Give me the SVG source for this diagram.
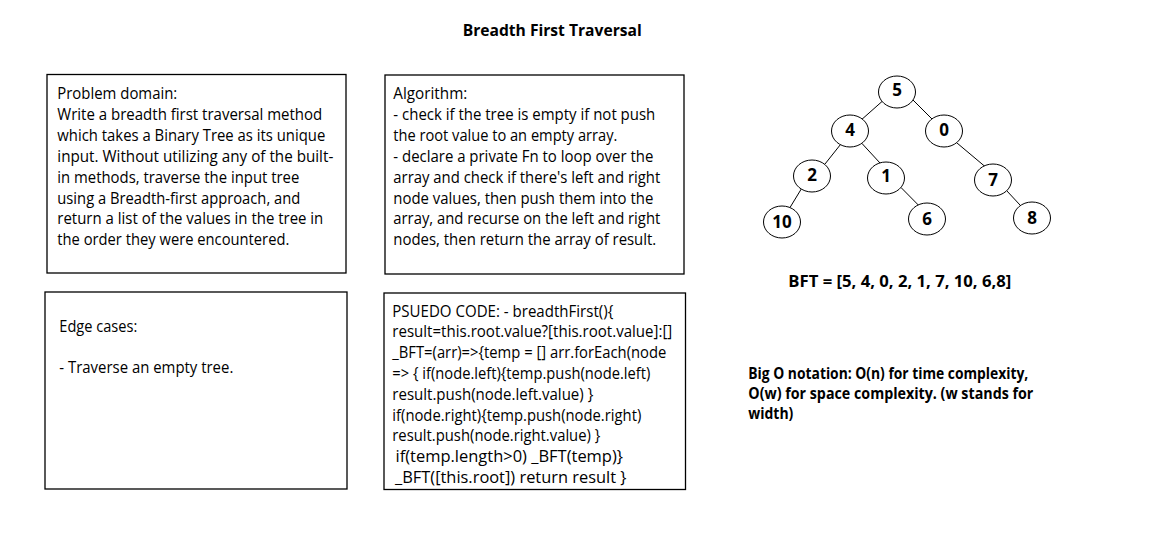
<svg xmlns="http://www.w3.org/2000/svg" width="1155" height="548" viewBox="0 0 1155 548">
<style>
.box{fill:#fff;stroke:#000;stroke-width:1.3}
.t{font-family:"Open Sans","Noto Sans",sans-serif;font-size:15.5px;fill:#000}
.b{font-family:"Open Sans","Noto Sans",sans-serif;font-size:16px;font-weight:bold;fill:#000}
.node ellipse{fill:#fff;stroke:#000;stroke-width:1}
.node text{font-family:"Open Sans","Noto Sans",sans-serif;font-size:17px;font-weight:bold;fill:#000;text-anchor:middle}
.edge{stroke:#000;stroke-width:1;fill:none}
</style>
<rect width="1155" height="548" fill="#fff"/>
<g id="title">
<text class="b" x="462.7" y="36" font-size="17" textLength="179" lengthAdjust="spacingAndGlyphs">Breadth First Traversal</text>
</g>
<g id="problem-domain">
<rect class="box" x="47" y="74.5" width="299" height="198.5"/>
<text class="t" x="57.3" y="99" textLength="120" lengthAdjust="spacingAndGlyphs">Problem domain:</text>
<text class="t" x="57.3" y="119.9" textLength="265" lengthAdjust="spacingAndGlyphs">Write a breadth first traversal method</text>
<text class="t" x="57.3" y="140.8" textLength="268" lengthAdjust="spacingAndGlyphs">which takes a Binary Tree as its unique</text>
<text class="t" x="57.3" y="161.7" textLength="276" lengthAdjust="spacingAndGlyphs">input. Without utilizing any of the built-</text>
<text class="t" x="57.3" y="182.6" textLength="242" lengthAdjust="spacingAndGlyphs">in methods, traverse the input tree</text>
<text class="t" x="57.3" y="203.5" textLength="243" lengthAdjust="spacingAndGlyphs">using a Breadth-first approach, and</text>
<text class="t" x="57.3" y="224.4" textLength="266" lengthAdjust="spacingAndGlyphs">return a list of the values in the tree in</text>
<text class="t" x="57.3" y="245.3" textLength="232" lengthAdjust="spacingAndGlyphs">the order they were encountered.</text>
</g>
<g id="algorithm">
<rect class="box" x="385" y="75" width="299" height="199"/>
<text class="t" x="393.3" y="99" textLength="74" lengthAdjust="spacingAndGlyphs">Algorithm:</text>
<text class="t" x="393.3" y="119.9" textLength="262" lengthAdjust="spacingAndGlyphs">- check if the tree is empty if not push</text>
<text class="t" x="393.3" y="140.8" textLength="224" lengthAdjust="spacingAndGlyphs">the root value to an empty array.</text>
<text class="t" x="393.3" y="161.7" textLength="260" lengthAdjust="spacingAndGlyphs">- declare a private Fn to loop over the</text>
<text class="t" x="393.3" y="182.6" textLength="267" lengthAdjust="spacingAndGlyphs">array and check if there's left and right</text>
<text class="t" x="393.3" y="203.5" textLength="260" lengthAdjust="spacingAndGlyphs">node values, then push them into the</text>
<text class="t" x="393.3" y="224.4" textLength="267" lengthAdjust="spacingAndGlyphs">array, and recurse on the left and right</text>
<text class="t" x="393.3" y="245.3" textLength="263" lengthAdjust="spacingAndGlyphs">nodes, then return the array of result.</text>
</g>
<g id="edge-cases">
<rect class="box" x="45" y="292" width="302" height="197"/>
<text class="t" x="59.3" y="331.5" textLength="78" lengthAdjust="spacingAndGlyphs">Edge cases:</text>
<text class="t" x="59.3" y="373.2" textLength="174" lengthAdjust="spacingAndGlyphs">- Traverse an empty tree.</text>
</g>
<g id="pseudo-code">
<rect class="box" x="384" y="293" width="301.5" height="196.5"/>
<text class="t" x="392.3" y="316.5" textLength="221" lengthAdjust="spacingAndGlyphs">PSUEDO CODE: - breadthFirst(){</text>
<text class="t" x="392.3" y="337.3" textLength="280" lengthAdjust="spacingAndGlyphs">result=this.root.value?[this.root.value]:[]</text>
<text class="t" x="392.3" y="358.1" textLength="274" lengthAdjust="spacingAndGlyphs">_BFT=(arr)=&gt;{temp = [] arr.forEach(node</text>
<text class="t" x="392.3" y="378.9" textLength="258" lengthAdjust="spacingAndGlyphs">=&gt; { if(node.left){temp.push(node.left)</text>
<text class="t" x="392.3" y="399.7" textLength="201" lengthAdjust="spacingAndGlyphs">result.push(node.left.value) }</text>
<text class="t" x="392.3" y="420.5" textLength="249" lengthAdjust="spacingAndGlyphs">if(node.right){temp.push(node.right)</text>
<text class="t" x="392.3" y="441.3" textLength="208" lengthAdjust="spacingAndGlyphs">result.push(node.right.value) }</text>
<text class="t" x="395.5" y="462.1" textLength="227.5" lengthAdjust="spacingAndGlyphs">if(temp.length&gt;0) _BFT(temp)}</text>
<text class="t" x="395" y="482.9" textLength="231.5" lengthAdjust="spacingAndGlyphs">_BFT([this.root]) return result }</text>
</g>
<g id="connectors">
<line class="edge" x1="882" y1="101.5" x2="861.7" y2="119.5"/>
<line class="edge" x1="913" y1="100" x2="932.5" y2="119.5"/>
<line class="edge" x1="840.5" y1="144.5" x2="825" y2="164"/>
<line class="edge" x1="862" y1="143.5" x2="880" y2="163"/>
<line class="edge" x1="801.7" y1="188.3" x2="790" y2="207.5"/>
<line class="edge" x1="901" y1="187.5" x2="918.3" y2="205"/>
<line class="edge" x1="957" y1="143" x2="985" y2="166.5"/>
<line class="edge" x1="1006.5" y1="190.5" x2="1020" y2="205"/>
</g>
<g id="node-5" class="node"><ellipse cx="897" cy="92" rx="18.5" ry="16"/><text x="897" y="96">5</text></g>
<g id="node-4" class="node"><ellipse cx="850" cy="131" rx="18.5" ry="16"/><text x="850" y="136">4</text></g>
<g id="node-0" class="node"><ellipse cx="944" cy="131" rx="18.5" ry="16"/><text x="944" y="136">0</text></g>
<g id="node-2" class="node"><ellipse cx="812" cy="176" rx="18.5" ry="16"/><text x="812" y="180.5">2</text></g>
<g id="node-1" class="node"><ellipse cx="886" cy="178" rx="18.5" ry="16"/><text x="886" y="182">1</text></g>
<g id="node-7" class="node"><ellipse cx="993" cy="180" rx="18.5" ry="16"/><text x="993" y="186">7</text></g>
<g id="node-10" class="node"><ellipse cx="782" cy="222" rx="18.5" ry="16"/><text x="782" y="227.5">10</text></g>
<g id="node-6" class="node"><ellipse cx="927" cy="219" rx="18.5" ry="16"/><text x="927" y="225">6</text></g>
<g id="node-8" class="node"><ellipse cx="1032" cy="218" rx="18.5" ry="16"/><text x="1032" y="223.5">8</text></g>
<g id="bft-result">
<text class="b" x="788.3" y="286.5" textLength="223" lengthAdjust="spacingAndGlyphs">BFT = [5, 4, 0, 2, 1, 7, 10, 6,8]</text>
</g>
<g id="big-o">
<text class="b" x="748.3" y="378.5" textLength="280" lengthAdjust="spacingAndGlyphs">Big O notation: O(n) for time complexity,</text>
<text class="b" x="748.3" y="398.5" textLength="285" lengthAdjust="spacingAndGlyphs">O(w) for space complexity. (w stands for</text>
<text class="b" x="748.3" y="418.5" textLength="45" lengthAdjust="spacingAndGlyphs">width)</text>
</g>
</svg>
